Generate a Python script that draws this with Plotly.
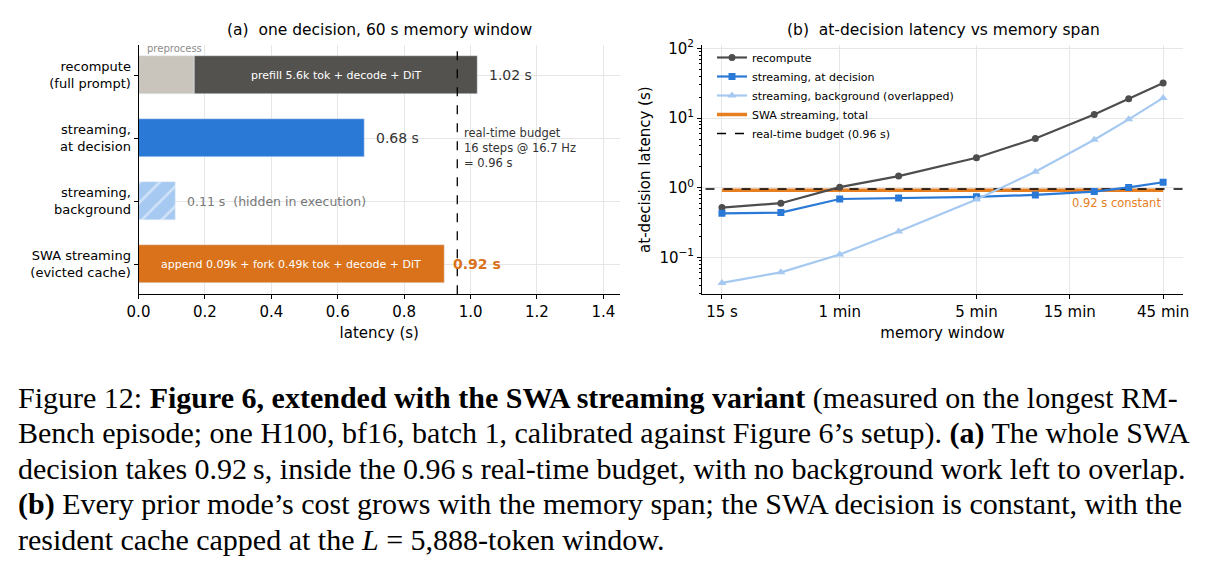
"""Figure 12: SWA streaming latency, two panels, rebuilt with Plotly."""

import math

import plotly.graph_objects as go

# ---- panel (a) data ----
modes = [
    "recompute<br>(full prompt)",
    "streaming,<br>at decision",
    "streaming,<br>background",
    "SWA streaming<br>(evicted cache)",
]
mode_latency = [1.02, 0.68, 0.11, 0.92]
preprocess_latency = 0.17
budget = 0.96

# ---- panel (b) data ----
window_s = [15, 30, 60, 120, 300, 600, 1200, 1800, 2700]
recompute = [0.52, 0.60, 1.02, 1.47, 2.7, 5.1, 11.3, 19.0, 32.0]
stream_decision = [0.43, 0.44, 0.69, 0.71, 0.74, 0.79, 0.88, 1.01, 1.2]
stream_background = [0.043, 0.061, 0.11, 0.235, 0.68, 1.7, 4.9, 9.6, 19.5]
swa_total = 0.92
window_ticks = [15, 60, 300, 900, 2700]
window_labels = ["15 s", "1 min", "5 min", "15 min", "45 min"]
latency_ticks = [0.1, 1, 10, 100]
latency_labels = ["10<sup>−1</sup>", "10<sup>0</sup>", "10<sup>1</sup>", "10<sup>2</sup>"]

DARK = "#54524e"
LIGHT = "#c9c4bc"
BLUE = "#2b79d6"
PALE = "#a6c9f1"
ORANGE = "#d9721a"
GRID = "#e6e6e6"
FONT = "DejaVu Sans"

# the page body has an 8 px margin, so the figure sits 8 px in from the window corner
OX, OY = 8, 8
W, H = 1219 - OX, 570 - OY


def px(x):
    return (x - OX) / W


def py(y):
    return 1 - (y - OY) / H


fig = go.Figure()

# left panel bars
fig.add_trace(go.Bar(y=[modes[0]], x=[preprocess_latency], orientation="h",
                     marker_color=LIGHT, width=0.6, showlegend=False,
                     xaxis="x", yaxis="y"))
fig.add_trace(go.Bar(y=[modes[0]], x=[mode_latency[0] - preprocess_latency],
                     base=[preprocess_latency], orientation="h",
                     marker_color=DARK, width=0.6, showlegend=False,
                     xaxis="x", yaxis="y"))
fig.add_trace(go.Bar(y=[modes[1]], x=[mode_latency[1]], orientation="h",
                     marker_color=BLUE, width=0.6, showlegend=False,
                     xaxis="x", yaxis="y"))
fig.add_trace(go.Bar(y=[modes[2]], x=[mode_latency[2]], orientation="h",
                     marker=dict(color=PALE, pattern=dict(shape="/", fgcolor="white",
                                                          bgcolor=PALE, size=14,
                                                          solidity=0.18)),
                     width=0.6, showlegend=False, xaxis="x", yaxis="y"))
fig.add_trace(go.Bar(y=[modes[3]], x=[mode_latency[3]], orientation="h",
                     marker_color=ORANGE, width=0.6, showlegend=False,
                     xaxis="x", yaxis="y"))

# right panel lines (reference lines underneath the data)
span = [window_s[0], window_s[-1]]
fig.add_trace(go.Scatter(x=span, y=[swa_total] * 2, mode="lines",
                         line=dict(color="#e67e22", width=3.5),
                         name="SWA streaming, total", legendrank=4,
                         xaxis="x2", yaxis="y2"))
fig.add_trace(go.Scatter(x=[10, 4000], y=[budget] * 2, mode="lines",
                         line=dict(color="black", width=1.4, dash="dash"),
                         name="real-time budget (0.96 s)", legendrank=5,
                         xaxis="x2", yaxis="y2"))
fig.add_trace(go.Scatter(x=window_s, y=recompute, mode="lines+markers",
                         line=dict(color="#4d4d4d", width=2.2),
                         marker=dict(symbol="circle", size=7),
                         name="recompute", legendrank=1, xaxis="x2", yaxis="y2"))
fig.add_trace(go.Scatter(x=window_s, y=stream_decision, mode="lines+markers",
                         line=dict(color=BLUE, width=2.2),
                         marker=dict(symbol="square", size=7),
                         name="streaming, at decision", legendrank=2,
                         xaxis="x2", yaxis="y2"))
fig.add_trace(go.Scatter(x=window_s, y=stream_background, mode="lines+markers",
                         line=dict(color=PALE, width=2.2),
                         marker=dict(symbol="triangle-up", size=8),
                         name="streaming, background (overlapped)", legendrank=3,
                         xaxis="x2", yaxis="y2"))

ann = []
ann.append(dict(x=0.5 * (preprocess_latency + mode_latency[0]), y=modes[0],
                text="prefill 5.6k tok + decode + DiT", showarrow=False,
                font=dict(size=11, color="white"), xref="x", yref="y"))
ann.append(dict(x=0.02, y=-0.3, text="preprocess", showarrow=False, xanchor="left",
                yanchor="bottom", font=dict(size=10, color="#8c8c8c"),
                xref="x", yref="y"))
ann.append(dict(x=mode_latency[0] + 0.03, y=modes[0], text="1.02 s", showarrow=False,
                xanchor="left", font=dict(size=14, color="#333"), xref="x", yref="y"))
ann.append(dict(x=mode_latency[1] + 0.03, y=modes[1], text="0.68 s", showarrow=False,
                xanchor="left", font=dict(size=14, color="#333"), xref="x", yref="y"))
ann.append(dict(x=mode_latency[2] + 0.03, y=modes[2],
                text="0.11 s  (hidden in execution)", showarrow=False,
                xanchor="left", font=dict(size=12.5, color="#777"), xref="x", yref="y"))
ann.append(dict(x=0.5 * mode_latency[3], y=modes[3],
                text="append 0.09k + fork 0.49k tok + decode + DiT", showarrow=False,
                font=dict(size=11, color="white"), xref="x", yref="y"))
ann.append(dict(x=mode_latency[3] + 0.022, y=modes[3], text="<b>0.92 s</b>",
                showarrow=False, xanchor="left", font=dict(size=14, color=ORANGE),
                xref="x", yref="y"))
ann.append(dict(x=budget + 0.015, y=1.15,
                text="real-time budget<br>16 steps @ 16.7 Hz<br>= 0.96 s",
                showarrow=False, xanchor="left", yanchor="middle", align="left",
                font=dict(size=11.5, color="#333"), xref="x", yref="y"))
ann.append(dict(x=math.log10(window_s[-1]), y=math.log10(swa_total),
                text="0.92 s constant", showarrow=False, xanchor="right",
                yanchor="top", yshift=-4, font=dict(size=11.5, color="#e67e22"),
                xref="x2", yref="y2"))

# panel titles
ann.append(dict(x=px(379), y=py(30), text="(a)  one decision, 60 s memory window",
                showarrow=False, xref="paper", yref="paper", xanchor="center",
                yanchor="middle", font=dict(size=15.5, color="black")))
ann.append(dict(x=px(943), y=py(30), text="(b)  at-decision latency vs memory span",
                showarrow=False, xref="paper", yref="paper", xanchor="center",
                yanchor="middle", font=dict(size=15.5, color="black")))

# caption
caption = [
    "Figure 12: <b>Figure 6, extended with the SWA streaming variant</b> (measured on the longest RM-",
    "Bench episode; one H100, bf16, batch 1, calibrated against Figure 6’s setup). <b>(a)</b> The whole SWA",
    "decision takes 0.92\u2009s, inside the 0.96\u2009s real-time budget, with no background work left to overlap.",
    "<b>(b)</b> Every prior mode’s cost grows with the memory span; the SWA decision is constant, with the",
    "resident cache capped at the <i>L</i> = 5,888-token window.",
]
for i, line in enumerate(caption):
    ann.append(dict(x=px(16), y=py(398 + 35.3 * i), text=line, showarrow=False,
                    xref="paper", yref="paper", xanchor="left", yanchor="middle",
                    font=dict(family="Liberation Serif", size=30, color="black")))

fig.add_shape(type="line", x0=budget, x1=budget, y0=0, y1=1, xref="x", yref="y domain",
              line=dict(color="black", width=1.3, dash="dash"))

axis_common = dict(showline=True, linecolor="black", linewidth=1, ticks="outside",
                   ticklen=4, tickcolor="black", gridcolor=GRID, zeroline=False,
                   tickfont=dict(size=15, color="black"), automargin=False)

minor_vals = [k * 10 ** e for e in range(-2, 2) for k in range(2, 10)]

fig.update_layout(
    width=W, height=H, margin=dict(l=0, r=0, t=0, b=0, autoexpand=False),
    paper_bgcolor="white", plot_bgcolor="white",
    font=dict(family=FONT, color="black"),
    barmode="overlay", bargap=0,
    annotations=ann,
    xaxis=dict(domain=[px(138.5), px(620)], range=[0, 1.45], dtick=0.2,
               tickformat=".1f", anchor="y",
               title=dict(text="latency (s)", font=dict(size=15), standoff=7),
               **axis_common),
    yaxis=dict(domain=[py(294.3), py(45)], range=[3.48, -0.48], type="category",
               categoryorder="array", categoryarray=modes, anchor="x",
               **{**axis_common, "tickfont": dict(size=13, color="black")}),
    xaxis2=dict(domain=[px(702), px(1183)], type="log", range=[1.074, 3.533],
                tickvals=window_ticks, ticktext=window_labels, anchor="y2",
                title=dict(text="memory window", font=dict(size=15), standoff=7),
                **axis_common),
    yaxis2=dict(domain=[py(294.3), py(45)], type="log", range=[-1.53, 2.05],
                tickvals=latency_ticks, ticktext=latency_labels, anchor="x2",
                minor=dict(ticks="outside", ticklen=2, tickcolor="black", showgrid=False,
                           tickvals=minor_vals),
                title=dict(text="at-decision latency (s)", font=dict(size=15), standoff=5),
                **axis_common),
    legend=dict(x=px(712), y=py(43), xanchor="left", yanchor="top",
                bgcolor="rgba(0,0,0,0)", font=dict(size=11), itemwidth=30,
                tracegroupgap=0),
)

fig.write_html("out.html")
